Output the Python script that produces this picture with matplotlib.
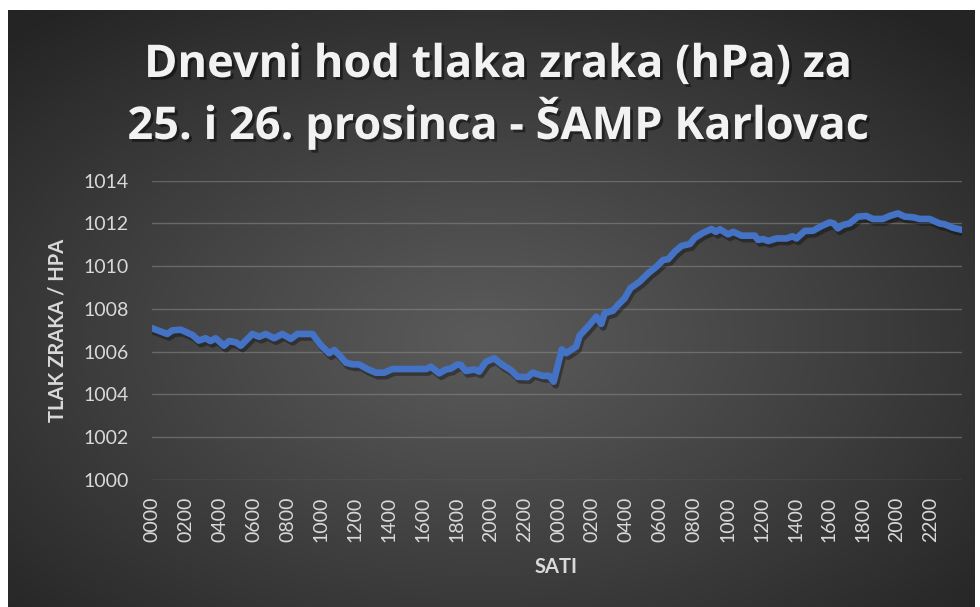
import numpy as np
import matplotlib
matplotlib.use("Agg")
import matplotlib.pyplot as plt
import matplotlib.patheffects as pe

# sati od ponoci 25.12. (0-48 h), ocitano s grafa
hours = [0.0, 0.5, 0.9, 1.2, 1.7, 2.4, 2.76, 3.16, 3.45, 3.76, 4.25, 4.55, 4.95, 5.24,
         5.93, 6.33, 6.72, 7.21, 7.7, 8.2, 8.59, 9.48, 9.97, 10.46, 10.76, 11.05, 11.45,
         11.84, 12.23, 12.72, 13.22, 13.71, 14.2, 16.18, 16.47, 16.96, 17.36, 17.65, 18.04,
         18.24, 18.53, 19.03, 19.32, 19.72, 20.21, 20.7, 21.2, 21.59, 22.18, 22.47, 22.87,
         23.07, 23.46, 23.72, 24.2, 24.46, 25.05, 25.25, 25.74, 26.24, 26.53, 26.73, 27.22,
         27.52, 27.91, 28.25, 28.8, 29.3, 29.79, 30.18, 30.48, 30.87, 31.27, 31.76, 32.06,
         32.55, 33.04, 33.3, 33.53, 34.02, 34.32, 34.81, 35.6, 35.79, 36.09, 36.39, 36.88,
         37.47, 37.82, 38.06, 38.55, 39.04, 39.54, 40.03, 40.26, 40.5, 40.8, 41.19, 41.69,
         42.18, 42.57, 43.16, 43.56, 44.05, 44.45, 44.94, 45.33, 45.92, 46.51, 46.81, 47.3,
         47.83]
pressure = [1007.1, 1006.95, 1006.83, 1007.0, 1007.03, 1006.78, 1006.52, 1006.63, 1006.5,
            1006.63, 1006.28, 1006.5, 1006.44, 1006.28, 1006.83, 1006.7, 1006.83, 1006.63,
            1006.83, 1006.6, 1006.83, 1006.83, 1006.31, 1005.93, 1006.08, 1005.85, 1005.49,
            1005.41, 1005.41, 1005.19, 1005.02, 1005.02, 1005.19, 1005.19, 1005.3, 1004.99,
            1005.17, 1005.21, 1005.41, 1005.38, 1005.1, 1005.17, 1005.07, 1005.53, 1005.69,
            1005.38, 1005.14, 1004.83, 1004.81, 1005.02, 1004.92, 1004.87, 1004.87, 1004.6,
            1006.11, 1005.93, 1006.24, 1006.75, 1007.17, 1007.64, 1007.3, 1007.8, 1007.92,
            1008.19, 1008.5, 1008.97, 1009.28, 1009.67, 1009.98, 1010.29, 1010.33, 1010.68,
            1010.95, 1011.04, 1011.33, 1011.57, 1011.74, 1011.61, 1011.73, 1011.49, 1011.61,
            1011.43, 1011.43, 1011.23, 1011.27, 1011.18, 1011.3, 1011.3, 1011.4, 1011.3,
            1011.65, 1011.66, 1011.88, 1012.05, 1012.0, 1011.77, 1011.93, 1012.0, 1012.32,
            1012.35, 1012.21, 1012.21, 1012.35, 1012.47, 1012.32, 1012.29, 1012.21, 1012.21,
            1012.0, 1011.96, 1011.8, 1011.7]

tick_hours = list(range(0, 48, 2))
tick_labels = [f"{h % 24:02d}00" for h in tick_hours]
y_ticks = [1000, 1002, 1004, 1006, 1008, 1010, 1012, 1014]

title_lines = ["Dnevni hod tlaka zraka (hPa) za", "25. i 26. prosinca - ŠAMP Karlovac"]

W, H = 980, 607
fig = plt.figure(figsize=(W / 100, H / 100), dpi=100)
fig.patch.set_facecolor("white")

# pozadina - radijalni gradijent
bg = fig.add_axes([8 / W, 0, 967 / W, 597 / H])
gx, gy = np.meshgrid(np.linspace(-1, 1, 400), np.linspace(-1, 1, 250))
r = np.sqrt((gx + 0.02) ** 2 + (gy - 0.1) ** 2) / np.sqrt(2)
shade = 0x5a - (0x5a - 0x24) * np.clip(r, 0, 1) ** 1.1
bg.imshow(np.dstack([shade / 255] * 3), aspect="auto", extent=[0, 1, 0, 1],
          interpolation="bilinear")
bg.set_axis_off()

ax = fig.add_axes([152 / W, 1 - 480 / H, 810 / W, 299.3 / H])
ax.set_facecolor("none")
ax.plot(hours, pressure, color="#4472C4", lw=4.8, solid_capstyle="round",
        solid_joinstyle="round",
        path_effects=[pe.SimpleLineShadow(offset=(1.5, -2.5), shadow_color="black", alpha=0.35),
                      pe.Normal()])
ax.set_xlim(0, 47 + 50 / 60)
ax.set_ylim(1000, 1014)
ax.set_yticks(y_ticks)
ax.set_xticks(tick_hours)
ax.set_xticklabels(tick_labels, rotation=90, va="top", ha="center")
ax.grid(axis="y", color="#8a8a8a", lw=1, alpha=0.55)
ax.set_axisbelow(True)
for s in ax.spines.values():
    s.set_visible(False)
ax.tick_params(axis="both", length=0, colors="#d9d9d9", labelsize=14)
ax.tick_params(axis="x", pad=12)
ax.tick_params(axis="y", pad=17)
for lab in ax.get_xticklabels() + ax.get_yticklabels():
    lab.set_family("Lato")

fig.text(58 / W, 1 - 330 / H, "TLAK ZRAKA / HPA", rotation=90, ha="center", va="center",
         color="#d9d9d9", fontsize=14.5, fontweight="bold", family="Lato")
fig.text(556 / W, 1 - 567 / H, "SATI", ha="center", va="center",
         color="#d9d9d9", fontsize=14.5, fontweight="bold", family="Lato")

shadow = [pe.withSimplePatchShadow(offset=(2, -2), shadow_rgbFace="black", alpha=0.45)]
for line, base in zip(title_lines, [77, 139]):
    fig.text(498 / W, 1 - base / H, line, ha="center", va="baseline", color="#f2f2f2",
             fontsize=32.5, fontweight="bold", family="Open Sans", path_effects=shadow)

fig.savefig("out.png", dpi=100)
